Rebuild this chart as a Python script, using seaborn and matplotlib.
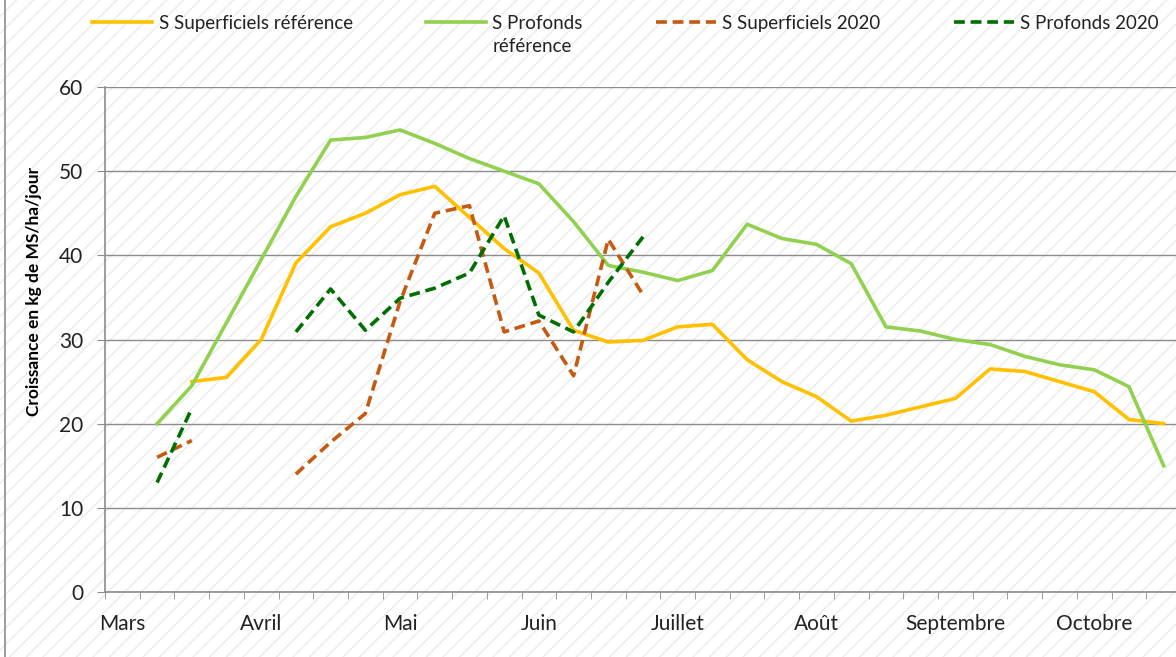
import numpy as np
import pandas as pd
import seaborn as sns
import matplotlib.pyplot as plt
from matplotlib.patches import Rectangle
from matplotlib.lines import Line2D

nan = np.nan

# weekly categories (31 weeks, labels every 4 weeks)
weeks = list(range(31))
month_labels = ['Mars', 'Avril', 'Mai', 'Juin', 'Juillet', 'Août', 'Septembre', 'Octobre']
month_pos = [0, 4, 8, 12, 16, 20, 24, 28]

sup_ref = [nan, nan, 25, 25.5, 30, 39.1, 43.4, 45, 47.2, 48.2, 44.5, 40.8, 37.9, 31.1, 29.7,
           29.9, 31.5, 31.8, 27.6, 25, 23.2, 20.3, 21, 22, 23, 26.5, 26.2, 25, 23.8, 20.5, 20]
prof_ref = [nan, 20, 24.5, 32, 39.5, 47, 53.7, 54, 54.9, 53.3, 51.5, 50, 48.5, 44, 38.8,
            38, 37, 38.2, 43.7, 42, 41.3, 39, 31.5, 31, 30, 29.4, 28, 27, 26.4, 24.4, 15]
sup_2020 = [nan, 16, 18, nan, nan, 14, 17.8, 21.2, 34.5, 45, 45.9, 30.9, 32.2, 25.7, 41.9,
            35.3] + [nan] * 15
prof_2020 = [nan, 13, 21.8, nan, nan, 30.9, 36, 31.1, 34.9, 36.1, 37.9, 44.7, 32.9, 30.9, 36.8,
             42.2] + [nan] * 15

series = [
    ('S Superficiels référence', sup_ref, '#FFC000', '-'),
    ('S Profonds', prof_ref, '#92D050', '-'),
    ('S Superficiels 2020', sup_2020, '#C55A11', (0, (3, 1.6))),
    ('S Profonds 2020', prof_2020, '#006F00', (0, (3, 1.6))),
]

plt.rcParams['font.family'] = ['Lato', 'DejaVu Sans']
plt.rcParams['hatch.linewidth'] = 1.0
plt.rcParams['hatch.color'] = '#ebebeb'

W, H = 1176, 657
fig = plt.figure(figsize=(W / 100, H / 100), dpi=100)
fig.patch.set_facecolor('white')
fig.patches.append(Rectangle((0, 0), 1, 1, transform=fig.transFigure, facecolor='white',
                             edgecolor='#ebebeb', hatch='//', linewidth=0, zorder=-10))
fig.add_artist(Line2D([5 / W, 5 / W], [0, 1], color='#8c8c8c', lw=1.2))

ax = fig.add_axes([105 / W, 1 - 592 / H, 1076 / W, 505 / H])
ax.set_facecolor('none')

handles = []
for label, vals, color, ls in series:
    df = pd.DataFrame({'week': weeks, 'val': vals})
    df['seg'] = df['val'].isna().cumsum()
    df = df.dropna()
    for _, part in df.groupby('seg'):
        sns.lineplot(data=part, x='week', y='val', color=color, linestyle=ls, lw=2.6,
                     ax=ax, zorder=3)
    handles.append(Line2D([], [], color=color, linestyle=ls, lw=2.6, label=label))

ax.set_xlim(-0.5, 30.5)
ax.set_ylim(0, 60)
ax.set_yticks(range(0, 61, 10))
ax.grid(axis='y', color='#8c8c8c', lw=1)
ax.set_axisbelow(True)
ax.set_xticks(month_pos)
ax.set_xticklabels(month_labels, fontsize=15, color='#222222')
ax.set_xticks(np.arange(-0.5, 31, 1), minor=True)
ax.tick_params(axis='x', which='major', length=0, pad=16)
ax.tick_params(axis='x', which='minor', length=5, color='#8c8c8c', direction='out')
ax.tick_params(axis='y', length=5.5, color='#8c8c8c', labelsize=15, labelcolor='#222222', pad=10)
for s in ['top', 'right']:
    ax.spines[s].set_visible(False)
for s in ['left', 'bottom']:
    ax.spines[s].set_color('#8c8c8c')
    ax.spines[s].set_linewidth(1.2)
ax.set_xlabel('')
ax.set_ylabel('Croissance en kg de MS/ha/jour', fontsize=12.5, fontweight='bold')
ax.yaxis.set_label_coords(-63 / 1076, (592 - 291) / 505)

leg = fig.legend(handles=handles, ncol=4, loc='upper left', bbox_to_anchor=(92 / W, 1 - 15 / H),
                 frameon=False, fontsize=13.5, handlelength=3.2, handletextpad=0.35,
                 columnspacing=3.9, borderpad=0, borderaxespad=0)
for t in leg.get_texts():
    t.set_color('#222222')

# second line of the "S Profonds référence" label, under the first line
fig.canvas.draw()
bb = leg.get_texts()[1].get_window_extent()
fig.text(bb.x0 / W, (bb.y0 - 23) / H, 'référence', fontsize=13.5, color='#222222',
         ha='left', va='bottom')

fig.savefig('out.png', dpi=100)
